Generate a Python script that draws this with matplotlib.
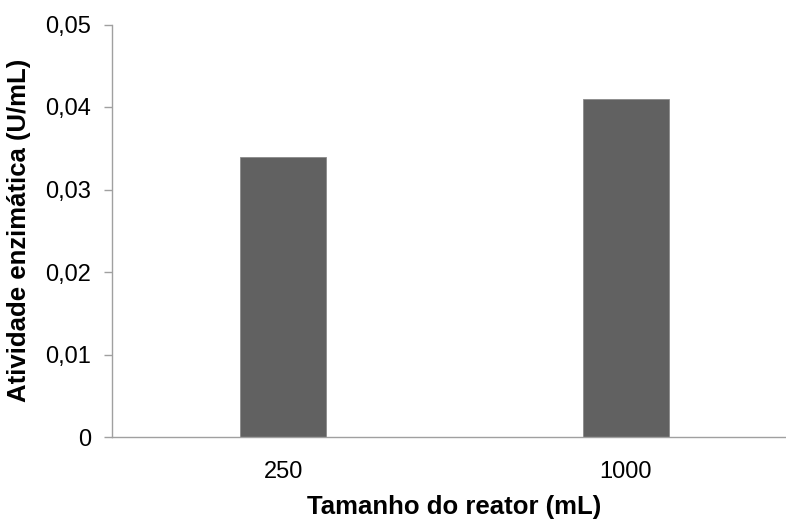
import matplotlib
matplotlib.use("Agg")
import matplotlib.pyplot as plt
from matplotlib.ticker import FuncFormatter

plt.rcParams["font.family"] = ["Liberation Sans", "DejaVu Sans"]

reactor_sizes = ["250", "1000"]
activity = [0.034, 0.041]
y_ticks = [0, 0.01, 0.02, 0.03, 0.04, 0.05]

W, H = 786, 521
fig = plt.figure(figsize=(W / 100, H / 100), dpi=100)
# axes from x=112 to 797 (picture is cut at 786), zero at y=437, 0.05 at y=24.5
ax = fig.add_axes([112 / W, (H - 437) / H, (797 - 112) / W, (437 - 24.5) / H])

x = list(range(len(reactor_sizes)))
ax.bar(x, activity, width=0.25, color="#616161", edgecolor="#8a8a8a", linewidth=0.6)

ax.set_xlim(-0.5, 1.5)
ax.set_ylim(0, 0.05)
ax.set_xticks(x)
ax.set_xticklabels(reactor_sizes)
ax.set_yticks(y_ticks)
ax.yaxis.set_major_formatter(FuncFormatter(lambda v, p: "0" if v == 0 else f"{v:.2f}".replace(".", ",")))

for side in ("top", "right"):
    ax.spines[side].set_visible(False)
for side in ("left", "bottom"):
    ax.spines[side].set_color("#a0a0a0")
    ax.spines[side].set_linewidth(1.0)

ax.tick_params(axis="y", length=6, width=1.0, color="#a0a0a0", labelsize=17, pad=9)
ax.tick_params(axis="x", length=0, labelsize=17, pad=17)

ax.set_xlabel("Tamanho do reator (mL)", fontsize=18.5, fontweight="bold", labelpad=9)
ax.set_ylabel("Atividade enzimática (U/mL)", fontsize=18.5, fontweight="bold", labelpad=10)

fig.savefig("out.png", dpi=100)
